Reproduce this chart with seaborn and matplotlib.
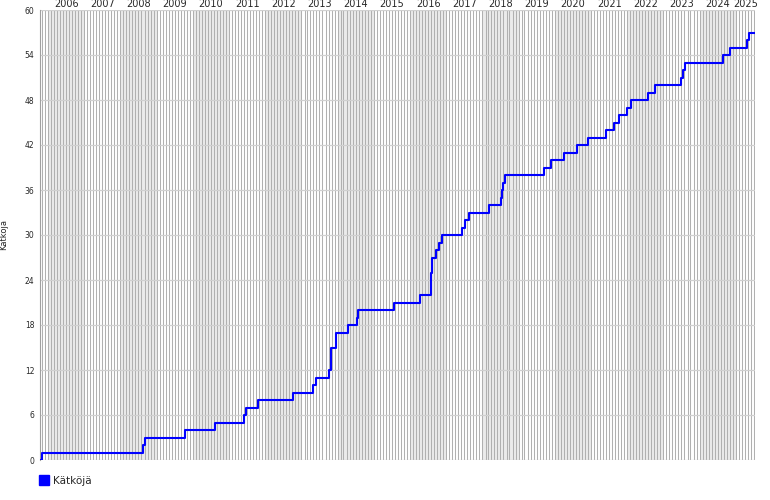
import matplotlib
matplotlib.use('Agg')
import matplotlib.pyplot as plt
from matplotlib.patches import Patch
import seaborn as sns
import pandas as pd

# Kätköjen kertymä: päivät jolloin summa muuttuu ja uusi summa
dates = ['2005-10-12', '2005-11-01', '2008-08-16', '2008-09-05', '2008-10-26',
         '2009-10-15', '2010-08-12', '2011-06-01', '2011-06-21', '2011-10-21',
         '2012-10-08', '2013-04-28', '2013-05-28', '2013-10-06', '2013-10-26',
         '2013-12-16', '2014-04-16', '2014-07-15', '2014-07-25', '2015-07-23',
         '2016-04-11', '2016-07-31', '2016-08-03', '2016-08-07', '2016-08-12',
         '2016-09-20', '2016-10-20', '2016-11-19', '2017-06-09', '2017-07-09',
         '2017-08-18', '2018-03-08', '2018-07-07', '2018-07-17', '2018-07-27',
         '2018-08-16', '2019-09-14', '2019-11-23', '2020-04-04', '2020-08-13',
         '2020-12-01', '2021-06-01', '2021-08-21', '2021-10-10', '2021-12-30',
         '2022-02-08', '2022-07-29', '2022-10-08', '2023-06-27', '2023-07-17',
         '2023-08-06', '2024-08-24', '2024-11-02', '2025-04-23', '2025-05-14']
counts = [0, 1, 2, 3, 3,
          4, 5, 6, 7, 8,
          9, 10, 11, 12, 15,
          17, 18, 19, 20, 21,
          22, 23, 25, 26, 27,
          28, 29, 30, 31, 32,
          33, 34, 35, 36, 37,
          38, 39, 40, 41, 42,
          43, 44, 45, 46, 47,
          48, 49, 50, 51, 52,
          53, 54, 55, 56, 57]
end_date = '2025-07-13'
years = list(range(2006, 2026))
y_ticks = list(range(0, 61, 6))

sns.set_style('white')
plt.rcParams['font.family'] = ['DejaVu Sans']

df = pd.DataFrame({'pvm': pd.to_datetime(dates + [end_date]),
                   'Kätköjä': counts + [counts[-1]]})
start = df['pvm'].min()
end = df['pvm'].max()

fig = plt.figure(figsize=(7.7, 5), dpi=100)
ax = fig.add_axes([40 / 770, 40 / 500, 715 / 770, 450 / 500])

# vuosivyöhykkeet
for y in range(2005, 2026):
    if y % 2 == 0:
        a = max(start, pd.Timestamp(f'{y}-01-01'))
        b = min(end, pd.Timestamp(f'{y + 1}-01-01'))
        ax.axvspan(a, b, color='#ebebeb', lw=0, zorder=0)

# kuukausiviivat
for m in pd.date_range('2005-11-01', end, freq='MS'):
    ax.axvline(m, color='#b0b0b0', lw=0.75, zorder=1)

for t in y_ticks:
    ax.axhline(t, color='#d0d0d0', lw=0.9, zorder=2)

sns.lineplot(data=df, x='pvm', y='Kätköjä', ax=ax, color='#0000ff', lw=1.5,
             drawstyle='steps-post', estimator=None, zorder=3)

ax.set_xlim(start, end)
ax.set_ylim(0, 60)

# vuositekstit yläreunaan näkyvän osan keskelle
centers = []
for y in years:
    a = max(start, pd.Timestamp(f'{y}-01-01'))
    b = min(end, pd.Timestamp(f'{y + 1}-01-01'))
    centers.append(a + (b - a) / 2)
ax.xaxis.tick_top()
ax.set_xticks(centers)
ax.set_xticklabels([str(y) for y in years], fontsize=7)
ax.tick_params(axis='x', length=0, pad=1)
ax.set_xlabel('')

ax.set_yticks(y_ticks)
ax.set_yticklabels([str(t) for t in y_ticks], fontsize=5.5)
ax.tick_params(axis='y', length=3, color='#d0d0d0', pad=1)
ax.set_ylabel('Kätköjä', fontsize=6)
ax.yaxis.set_label_coords(-0.045, 0.5)

for s in ['top', 'right', 'bottom']:
    ax.spines[s].set_visible(False)
ax.spines['left'].set_color('#a0a0a0')
ax.spines['left'].set_linewidth(0.8)

fig.legend(handles=[Patch(color='#0000ff', label='Kätköjä')], loc='lower left',
           bbox_to_anchor=(30 / 770, 0.01), frameon=False, fontsize=7.5,
           handlelength=0.9, handleheight=1.0, handletextpad=0.4)

fig.savefig('out.png', dpi=100)
